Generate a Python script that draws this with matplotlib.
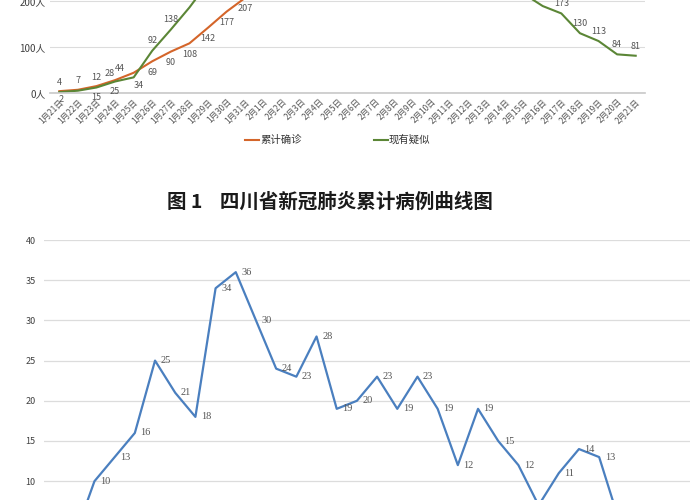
import numpy as np
import matplotlib
matplotlib.use('Agg')
import matplotlib.pyplot as plt

plt.rcParams['font.family'] = ['Noto Sans CJK SC', 'DejaVu Sans']

# dates 1/21 - 2/21
dates = ['1月21日', '1月22日', '1月23日', '1月24日', '1月25日', '1月26日', '1月27日',
         '1月28日', '1月29日', '1月30日', '1月31日', '2月1日', '2月2日', '2月3日',
         '2月4日', '2月5日', '2月6日', '2月7日', '2月8日', '2月9日', '2月10日',
         '2月11日', '2月12日', '2月13日', '2月14日', '2月15日', '2月16日', '2月17日',
         '2月18日', '2月19日', '2月20日', '2月21日']

# top chart: cumulative confirmed / current suspected
confirmed = [4, 7, 15, 28, 44, 69, 90, 108, 142, 177, 207, 231, 254, 282, 301, 321,
             344, 363, 386, 405, 417, 436, 451, 463, 470, 481, 495, 508, 514, 520, 525, 526]
suspected = [2, 5, 12, 25, 34, 92, 138, 186, 240, 296, 338, 371, 395, 410, 418, 414,
             401, 383, 362, 339, 315, 290, 268, 248, 230, 215, 189, 173, 130, 113, 84, 81]
top_ticks = [0, 100, 200, 300, 400, 500, 600]

# bottom chart: daily new cases
daily_new = [2, 3, 10, 13, 16, 25, 21, 18, 34, 36, 30, 24, 23, 28, 19, 20, 23, 19, 23,
             19, 12, 19, 15, 12, 7, 11, 14, 13, 5, 6, 6, 5]
bottom_ticks = [0, 5, 10, 15, 20, 25, 30, 35, 40]

c_orange = '#d4652a'
c_green = '#5b8636'
c_blue = '#4a7fbf'
c_grid = '#dcdcdc'
c_text = '#555555'

x = np.arange(len(dates))
fig = plt.figure(figsize=(7, 5), dpi=100)

# ---- top chart (only lower part visible) ----
ax1 = fig.add_axes([50 / 700, 407 / 500, 595 / 700, 276 / 500])
ax1.plot(x, confirmed, color=c_orange, lw=1.5, label='累计确诊')
ax1.plot(x, suspected, color=c_green, lw=1.5, label='现有疑似')
ax1.set_xlim(-0.5, len(dates) - 0.5)
ax1.set_ylim(0, 600)
ax1.set_yticks(top_ticks)
ax1.set_yticklabels([f'{v}人' for v in top_ticks], fontsize=7, color='#404040')
ax1.set_xticks(x)
ax1.set_xticklabels(dates, rotation=45, ha='right', rotation_mode='anchor',
                    fontsize=6, color=c_text)
ax1.tick_params(length=0, pad=3)
ax1.grid(axis='y', color=c_grid, lw=0.8)
ax1.set_axisbelow(True)
for s in ['top', 'right', 'left']:
    ax1.spines[s].set_visible(False)
ax1.spines['bottom'].set_color('#c8c8c8')
ax1.spines['bottom'].set_linewidth(1.2)

# label offsets in points (early days are nudged like the original)
conf_off = {0: (0, 6), 1: (0, 7), 2: (0, -8), 3: (-4, 5), 4: (-10, 3)}
susp_off = {0: (1, -5), 2: (0, 7), 3: (0, -7), 4: (4, -6)}
for i, v in enumerate(confirmed):
    if v > 235:
        continue
    dx, dy = conf_off.get(i, (0, -8))
    ax1.annotate(str(v), (i, v), xytext=(dx, dy), textcoords='offset points',
                 ha='center', va='center', fontsize=6.5, color=c_text)
for i, v in enumerate(suspected):
    if i == 1 or v > 195:
        continue
    dx, dy = susp_off.get(i, (0, 7))
    ax1.annotate(str(v), (i, v), xytext=(dx, dy), textcoords='offset points',
                 ha='center', va='center', fontsize=6.5, color=c_text)

fig.legend(*ax1.get_legend_handles_labels(), loc='center', ncol=2,
           bbox_to_anchor=(338 / 700, 360 / 500), frameon=False, fontsize=7.5,
           handlelength=1.3, handletextpad=0.1, columnspacing=7, labelcolor='#333333')

fig.text(167 / 700, 298 / 500, '图 1    四川省新冠肺炎累计病例曲线图', fontsize=14,
         fontweight='bold', ha='left', va='center', color='#1a1a1a')

# ---- bottom chart (only upper part visible) ----
ax2 = fig.add_axes([44 / 700, -61.6 / 500, 646 / 700, 321.6 / 500])
ax2.plot(x, daily_new, color=c_blue, lw=1.6)
ax2.set_xlim(-0.5, len(dates) - 0.5)
ax2.set_ylim(0, 40)
ax2.set_yticks(bottom_ticks)
ax2.set_yticklabels([str(v) for v in bottom_ticks], fontsize=6.5, color='#404040')
ax2.set_xticks([])
ax2.tick_params(length=0, pad=6)
ax2.grid(axis='y', color=c_grid, lw=0.9)
ax2.set_axisbelow(True)
for s in ax2.spines.values():
    s.set_visible(False)
for i, v in enumerate(daily_new):
    if v < 8:
        continue
    ax2.annotate(str(v), (i, v), xytext=(4, 0), textcoords='offset points',
                 ha='left', va='center', fontsize=7.5, color='#555555',
                 family='Liberation Serif')

fig.savefig('out.png', dpi=100)
